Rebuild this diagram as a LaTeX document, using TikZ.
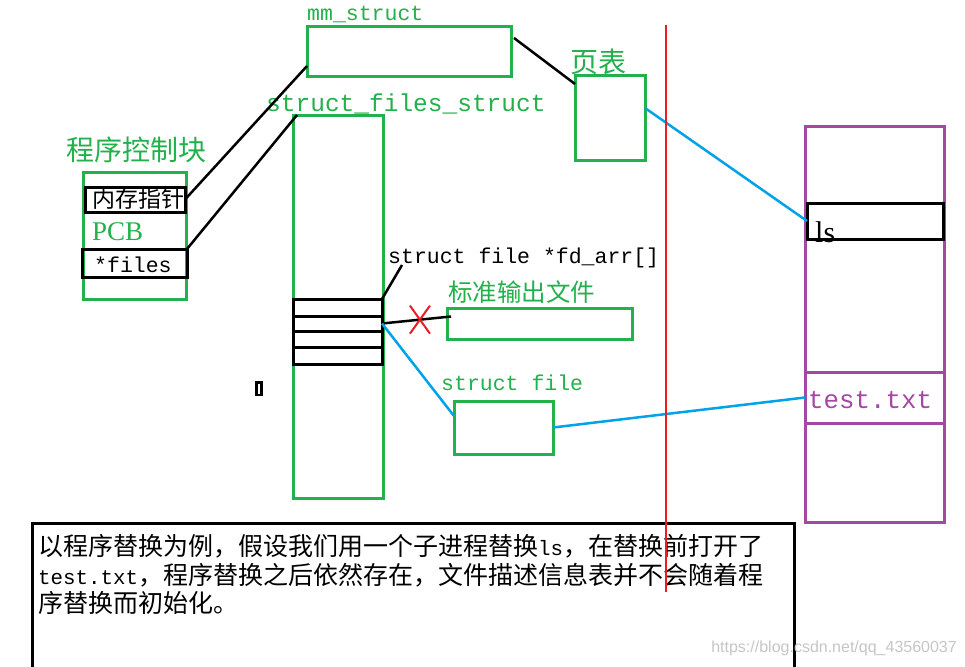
\documentclass[tikz,border=0pt]{standalone}
\usepackage{fontspec}
\setmainfont{Liberation Serif}
\setmonofont{Liberation Mono}
\newfontfamily\cjk{Noto Sans CJK SC}
\newfontfamily\wmfont{Liberation Sans}
\usetikzlibrary{calc,fit,shapes.misc}
\definecolor{pgreen}{HTML}{22B14C}
\definecolor{ppurple}{HTML}{A349A4}
\definecolor{pblue}{HTML}{00A2E8}
\definecolor{pred}{HTML}{ED1C24}
\newcommand{\monotxt}[1]{{\ttfamily\fontsize{20.8}{28.5}\selectfont #1}}
\tikzset{
  box/.style={draw,rectangle,line width=3pt,inner sep=0pt,outer sep=0pt},
  grnbox/.style={box,draw=pgreen},
  blkbox/.style={box,draw=black},
  purbox/.style={box,draw=ppurple},
  lbl/.style={inner sep=0pt,anchor=west},
  baselbl/.style={inner sep=0pt,anchor=base west},
  monolbl/.style={baselbl,font=\ttfamily\fontsize{21.5}{23}\selectfont},
  blkline/.style={black,line width=2.5pt},
  bluline/.style={pblue,line width=2.5pt},
  redline/.style={pred,line width=2pt}
}

\begin{document}
\begin{tikzpicture}[x=1pt,y=-1pt]
  \useasboundingbox (0,0) rectangle (965,666);
  \clip (0,0) rectangle (965,666);
  \fill[white] (0,0) rectangle (965,666);

  % labels
  \node[monolbl,text=pgreen] (mmlbl) at (307,21) {mm\_struct};
  \node[lbl,text=pgreen,font=\cjk\fontsize{28}{30}\selectfont] (ptlbl) at (570,62) {页表};
  \node[baselbl,text=pgreen,font=\ttfamily\fontsize{24.5}{26}\selectfont] (fsslbl) at (266,111) {struct\_files\_struct};
  \node[lbl,text=pgreen,font=\cjk\fontsize{28}{30}\selectfont] (pcblbl) at (66,150) {程序控制块};
  \node[baselbl,text=pgreen,font=\fontsize{27}{29}\selectfont] (pcb) at (92,240) {PCB};
  \node[monolbl] (fileslbl) at (94,272) {*files};
  \node[monolbl] (fdlbl) at (388,263) {struct file *fd\_arr[]};
  \node[lbl,text=pgreen,font=\cjk\fontsize{24.5}{26}\selectfont] (stdlbl) at (448,292) {标准输出文件};
  \node[monolbl,text=pgreen] (sflbl) at (441,390) {struct file};
  \node[baselbl,text=ppurple,font=\ttfamily\fontsize{25.8}{27}\selectfont] (testlbl) at (808,408) {test.txt};
  \node[baselbl,font=\fontsize{30}{32}\selectfont] (lslbl) at (815,242) {ls};
  \begin{scope}
    \clip (86,188) rectangle (184,211);
    \node[lbl,font=\cjk\fontsize{23}{25}\selectfont] (memlbl) at (92,199) {内存指针};
  \end{scope}

  % boxes
  \node[grnbox,fit={(307,27)(511,77)}] (mm) {};
  \node[grnbox,fit={(575,76)(645,160)}] (pt) {};
  \node[grnbox,fit={(293,115)(383,498)}] (fss) {};
  \node[grnbox,fit={(83,172)(186,299)}] (pcbbox) {};
  \node[blkbox,fit={(85,187)(185,212)}] (mem) {};
  \node[blkbox,fit={(82,249)(187,277)}] (files) {};
  \foreach \i/\ya/\yb in {1/299/316,2/316/331,3/331/347,4/347/364}
    \node[blkbox,fit={(293,\ya)(382,\yb)}] (fd\i) {};
  \node[grnbox,fit={(447,308)(632,339)}] (std) {};
  \node[grnbox,fit={(454,401)(553,454)}] (sf) {};
  \node[purbox,fit={(805,126)(944,522)}] (disk) {};
  \node[purbox,fit={(805,372)(944,423)}] (test) {};
  \node[blkbox,fit={(807,203)(943,239)}] (ls) {};
  \node[blkbox,line width=2.5pt,fit={(256.5,382.5)(261.5,395)}] (caret) {};
  \node[blkbox,fit={(32,523)(794,690)}] (note) {};

  % connectors
  \draw[blkline] (mem.east) -- ([yshift=11pt]mm.south west);
  \draw[blkline] (files.north east) -- ([xshift=4pt]fss.north west);
  \draw[blkline] ([shift={(3pt,-11pt)}]mm.north east) -- ([yshift=-8pt]pt.north west);
  \draw[blkline] (fd1.north east) -- ([xshift=14pt,yshift=-2pt]fdlbl.base west);
  \draw[blkline] (fd2.east) -- coordinate[pos=0.55] (cut) ([shift={(4pt,7pt)}]std.west);
  \node[cross out,draw=pred,line width=2pt,minimum width=18pt,minimum height=26pt,inner sep=0pt] (x) at (cut) {};
  \draw[bluline] ([yshift=10pt]pt.east) -- (ls.west);
  \draw[bluline] (fd2.east) -- ([yshift=11.5pt]sf.west);
  \draw[bluline] (sf.east) -- (test.west);

  \node[anchor=north west,inner sep=0pt,align=left,font=\cjk\fontsize{25}{28.5}\selectfont] (notetxt) at (38,534.5)
    {以程序替换为例，假设我们用一个子进程替换\monotxt{ls}，在替换前打开了\\
     \monotxt{test.txt}，程序替换之后依然存在，文件描述信息表并不会随着程\\
     序替换而初始化。};

  \coordinate (rtop) at (666,25);
  \coordinate (rbot) at (666,592);
  \draw[redline] (rtop) -- (rbot);

  \node[anchor=east,inner sep=0pt,text=gray!45,font=\wmfont\fontsize{16}{18}\selectfont] (wm) at (957,648) {https://blog.csdn.net/qq\_43560037};
\end{tikzpicture}
\end{document}
